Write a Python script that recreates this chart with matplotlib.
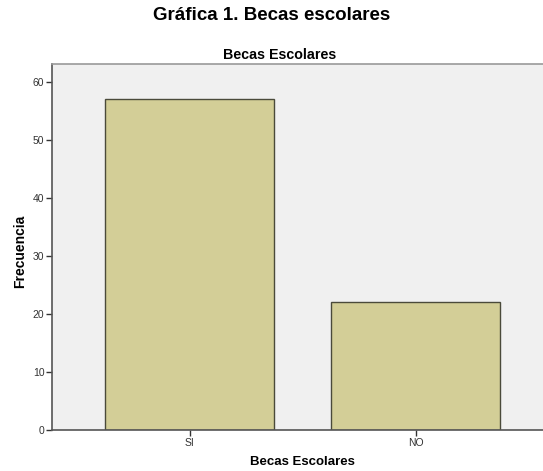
import matplotlib

matplotlib.use("Agg")
import matplotlib.pyplot as plt  # noqa: E402
import numpy as np  # noqa: E402

plt.rcParams["font.family"] = ["Liberation Sans", "DejaVu Sans"]

categories = ["SI", "NO"]
counts = [57, 22]
yticks = [0, 10, 20, 30, 40, 50, 60]

W, H = 543, 471
fig = plt.figure(figsize=(W / 100, H / 100), dpi=100)
ax = fig.add_axes([52 / W, 1 - 430 / H, 491 / W, (430 - 64) / H])
ax.set_facecolor("#f0f0f0")

x = np.arange(len(categories))
ax.bar(x, counts, width=0.748, color="#d3ce97", edgecolor="#4a4a3a", linewidth=1.0,
       zorder=2)

ax.set_xlim(-0.61, 1.563)
ax.set_ylim(0, 63.1)
ax.set_xticks(x)
ax.set_xticklabels(categories)
ax.set_yticks(yticks)
ax.tick_params(axis="both", direction="out", length=4, width=1, color="#333333",
               labelsize=7.5, labelcolor="#333333", pad=1.5)

for side in ["left", "bottom"]:
    ax.spines[side].set_color("#555555")
    ax.spines[side].set_linewidth(1.2)
ax.spines["top"].set_color("#999999")
ax.spines["top"].set_linewidth(1.2)
ax.spines["right"].set_visible(False)

# SPSS-style labels, placed on the figure
fig.text(280 / W, 1 - 55 / H, "Becas Escolares", ha="center", va="center",
         fontsize=10.3, fontweight="bold")
fig.text(302 / W, 1 - 462 / H, "Becas Escolares", ha="center", va="center",
         fontsize=9.5, fontweight="bold")
fig.text(20 / W, 1 - 251 / H, "Frecuencia", ha="center", va="center",
         rotation=90, fontsize=10, fontweight="bold")

fig.text(0.5, 1 - 16 / H, "Gráfica 1. Becas escolares", ha="center", va="center",
         fontsize=13.5, fontweight="bold")

fig.savefig("out.png", dpi=100)
plt.close(fig)
